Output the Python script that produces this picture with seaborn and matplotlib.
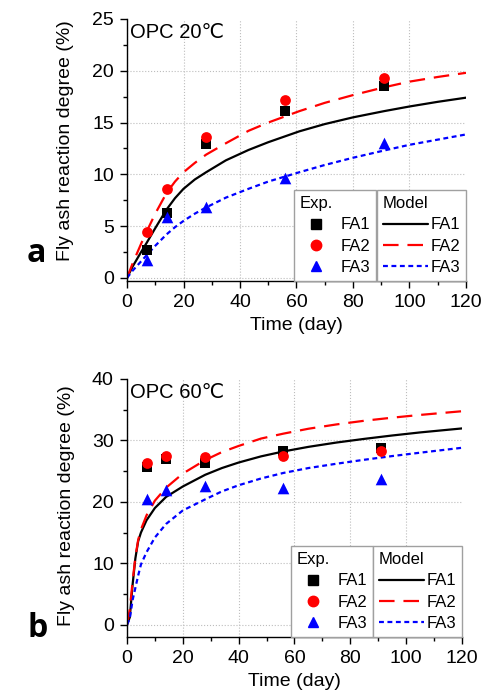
import numpy as np
import pandas as pd
import matplotlib
matplotlib.use("Agg")
import matplotlib.pyplot as plt
import seaborn as sns
from matplotlib.lines import Line2D
from matplotlib.ticker import MultipleLocator

# ---------------- data ----------------
series_names = ["FA1", "FA2", "FA3"]
colors = {"FA1": "#000000", "FA2": "#FF0000", "FA3": "#0000FF"}
exp_days = [7, 14, 28, 56, 91]

# panel a: OPC 20 C
a_exp_fa1 = [2.7, 6.3, 12.9, 16.1, 18.5]
a_exp_fa2 = [4.4, 8.6, 13.6, 17.2, 19.3]
a_exp_fa3 = [1.7, 5.9, 6.8, 9.6, 13.0]
a_model_t = [0, 2, 5, 7, 10, 14, 17, 20, 24, 28, 35, 43, 50, 61, 70, 80, 91, 100, 110, 120]
a_model_fa1 = [0, 1.1, 2.5, 3.4, 4.8, 6.6, 7.7, 8.6, 9.5, 10.2, 11.35, 12.35, 13.1, 14.15, 14.85, 15.5, 16.1, 16.55, 17.0, 17.4]
a_model_fa2 = [0, 1.4, 3.3, 4.5, 6.2, 8.2, 9.3, 10.2, 11.1, 11.9, 13.0, 14.2, 15.0, 16.1, 16.9, 17.65, 18.4, 18.95, 19.4, 19.8]
a_model_fa3 = [0, 0.7, 1.6, 2.2, 3.1, 4.2, 4.9, 5.5, 6.2, 6.8, 7.75, 8.6, 9.3, 10.2, 10.9, 11.6, 12.3, 12.85, 13.35, 13.85]

# panel b: OPC 60 C
b_exp_fa1 = [25.7, 26.9, 26.4, 28.3, 28.8]
b_exp_fa2 = [26.3, 27.4, 27.35, 27.5, 28.3]
b_exp_fa3 = [20.4, 22.0, 22.5, 22.3, 23.7]
b_model_t = [0, 1, 2, 3, 4, 5, 7, 10, 14, 20, 28, 34, 40, 48, 56, 65, 75, 85, 95, 105, 120]
b_model_fa1 = [0, 1.2, 6.5, 10.8, 13.6, 15.0, 17.0, 19.0, 20.8, 22.5, 24.4, 25.5, 26.4, 27.4, 28.2, 28.95, 29.65, 30.25, 30.8, 31.3, 31.95]
b_model_fa2 = [0, 2.5, 7.0, 11.0, 13.8, 15.5, 17.8, 20.2, 22.3, 24.6, 26.8, 28.1, 29.1, 30.3, 31.1, 31.9, 32.6, 33.2, 33.7, 34.15, 34.75]
b_model_fa3 = [0, 1.0, 4.0, 6.0, 8.0, 9.8, 11.8, 14.2, 16.4, 18.6, 20.4, 21.7, 22.7, 23.8, 24.7, 25.5, 26.2, 26.85, 27.45, 28.0, 28.8]

panel_titles = ["OPC 20\u2103", "OPC 60\u2103"]
panel_letters = ["a", "b"]
x_label = "Time (day)"
y_label = "Fly ash reaction degree (%)"
x_ticks = [0, 20, 40, 60, 80, 100, 120]

# ---------------- style ----------------
sns.set_style("ticks")
plt.rcParams["font.family"] = ["Liberation Sans", "DejaVu Sans"]
for k in ["text.color", "axes.labelcolor", "xtick.color", "ytick.color", "axes.edgecolor"]:
    plt.rcParams[k] = "black"
plt.rcParams["axes.linewidth"] = 1.0
plt.rcParams["xtick.direction"] = "out"
plt.rcParams["ytick.direction"] = "out"

FS = 14
LFS = 12
markers = {"FA1": "s", "FA2": "o", "FA3": "^"}
msizes = {"FA1": 45, "FA2": 60, "FA3": 70}
dashes = {"FA1": "", "FA2": (7, 4), "FA3": (2.2, 1.6)}

fig = plt.figure(figsize=(4.84, 6.95), dpi=100)
ax_a = fig.add_axes([0.2624, 0.5957, 0.7004, 0.3770])
ax_b = fig.add_axes([0.2624, 0.0835, 0.6921, 0.3712])


def make_frames(exp_vals, model_t, model_vals):
    exp_df = pd.DataFrame({
        "t": exp_days * 3,
        "v": exp_vals[0] + exp_vals[1] + exp_vals[2],
        "s": sum([[n] * len(exp_days) for n in series_names], []),
    })
    mod_df = pd.DataFrame({
        "t": list(model_t) * 3,
        "v": model_vals[0] + model_vals[1] + model_vals[2],
        "s": sum([[n] * len(model_t) for n in series_names], []),
    })
    return exp_df, mod_df


def draw_panel(ax, exp_df, mod_df, ylim, ymajor, yminor, title, leg_exp_right, ylab_y):
    sns.lineplot(data=mod_df, x="t", y="v", hue="s", style="s",
                 palette=colors, dashes=dashes, linewidth=1.6,
                 legend=False, ax=ax, zorder=2)
    for n in series_names:
        sub = exp_df[exp_df["s"] == n]
        sns.scatterplot(data=sub, x="t", y="v", color=colors[n],
                        marker=markers[n], s=msizes[n], linewidth=0,
                        legend=False, ax=ax, zorder=3)
    ax.set_xlim(0, 120)
    ax.set_ylim(*ylim)
    ax.set_xticks(x_ticks)
    ax.set_yticks(np.arange(0, ylim[1] + 0.01, ymajor))
    ax.xaxis.set_minor_locator(MultipleLocator(10))
    ax.yaxis.set_minor_locator(MultipleLocator(yminor))
    ax.tick_params(which="major", length=5, width=1, labelsize=FS, pad=4.5)
    ax.tick_params(which="minor", length=3, width=1)
    ax.grid(True, which="major", linestyle=":", color="#bdbdbd", linewidth=0.8)
    ax.xaxis.get_major_ticks()[-1].gridline.set_visible(False)
    ax.yaxis.get_major_ticks()[-1].gridline.set_visible(False)
    sns.despine(ax=ax)
    ax.set_xlabel(x_label, fontsize=FS, labelpad=4)
    ax.set_ylabel(y_label, fontsize=FS)
    ax.yaxis.set_label_coords(-0.155, ylab_y)
    ax.text(0.01, 0.985, title, transform=ax.transAxes, fontsize=FS + 0.5,
            ha="left", va="top")

    exp_handles = [Line2D([], [], linestyle="none", marker=markers[n],
                          color=colors[n], markersize=7.5 if n != "FA1" else 6.5)
                   for n in series_names]
    mod_handles = [Line2D([], [], color=colors[n], linewidth=1.6,
                          linestyle="-" if n == "FA1" else (0, dashes[n]))
                   for n in series_names]
    common = dict(fontsize=LFS, title_fontsize=LFS, frameon=True,
                  fancybox=False, edgecolor="#a0a0a0", framealpha=1,
                  borderaxespad=0, labelspacing=0.38, borderpad=0.35,
                  alignment="left", loc="lower right")
    leg1 = ax.legend(handles=exp_handles, labels=series_names, title="Exp.",
                     bbox_to_anchor=(leg_exp_right, 0.0),
                     handlelength=1.9, handletextpad=0.55, **common)
    leg1.get_frame().set_linewidth(1.0)
    ax.add_artist(leg1)
    leg2 = ax.legend(handles=mod_handles, labels=series_names, title="Model",
                     bbox_to_anchor=(1.0, 0.0),
                     handlelength=2.7, handletextpad=0.15, **common)
    leg2.get_frame().set_linewidth(1.0)


ea, ma = make_frames([a_exp_fa1, a_exp_fa2, a_exp_fa3], a_model_t,
                     [a_model_fa1, a_model_fa2, a_model_fa3])
eb, mb = make_frames([b_exp_fa1, b_exp_fa2, b_exp_fa3], b_model_t,
                     [b_model_fa1, b_model_fa2, b_model_fa3])

draw_panel(ax_a, ea, ma, (-0.3, 25), 5, 2.5, panel_titles[0], 0.735, 0.535)
draw_panel(ax_b, eb, mb, (-2, 40), 10, 5, panel_titles[1], 0.735, 0.51)

fig.text(0.056, 0.623, panel_letters[0], fontsize=23, fontweight="bold",
         family=["Open Sans", "DejaVu Sans"], ha="left", va="baseline")
fig.text(0.056, 0.0835, panel_letters[1], fontsize=23, fontweight="bold",
         family=["Open Sans", "DejaVu Sans"], ha="left", va="baseline")

fig.savefig("out.png", dpi=100, facecolor="white")
